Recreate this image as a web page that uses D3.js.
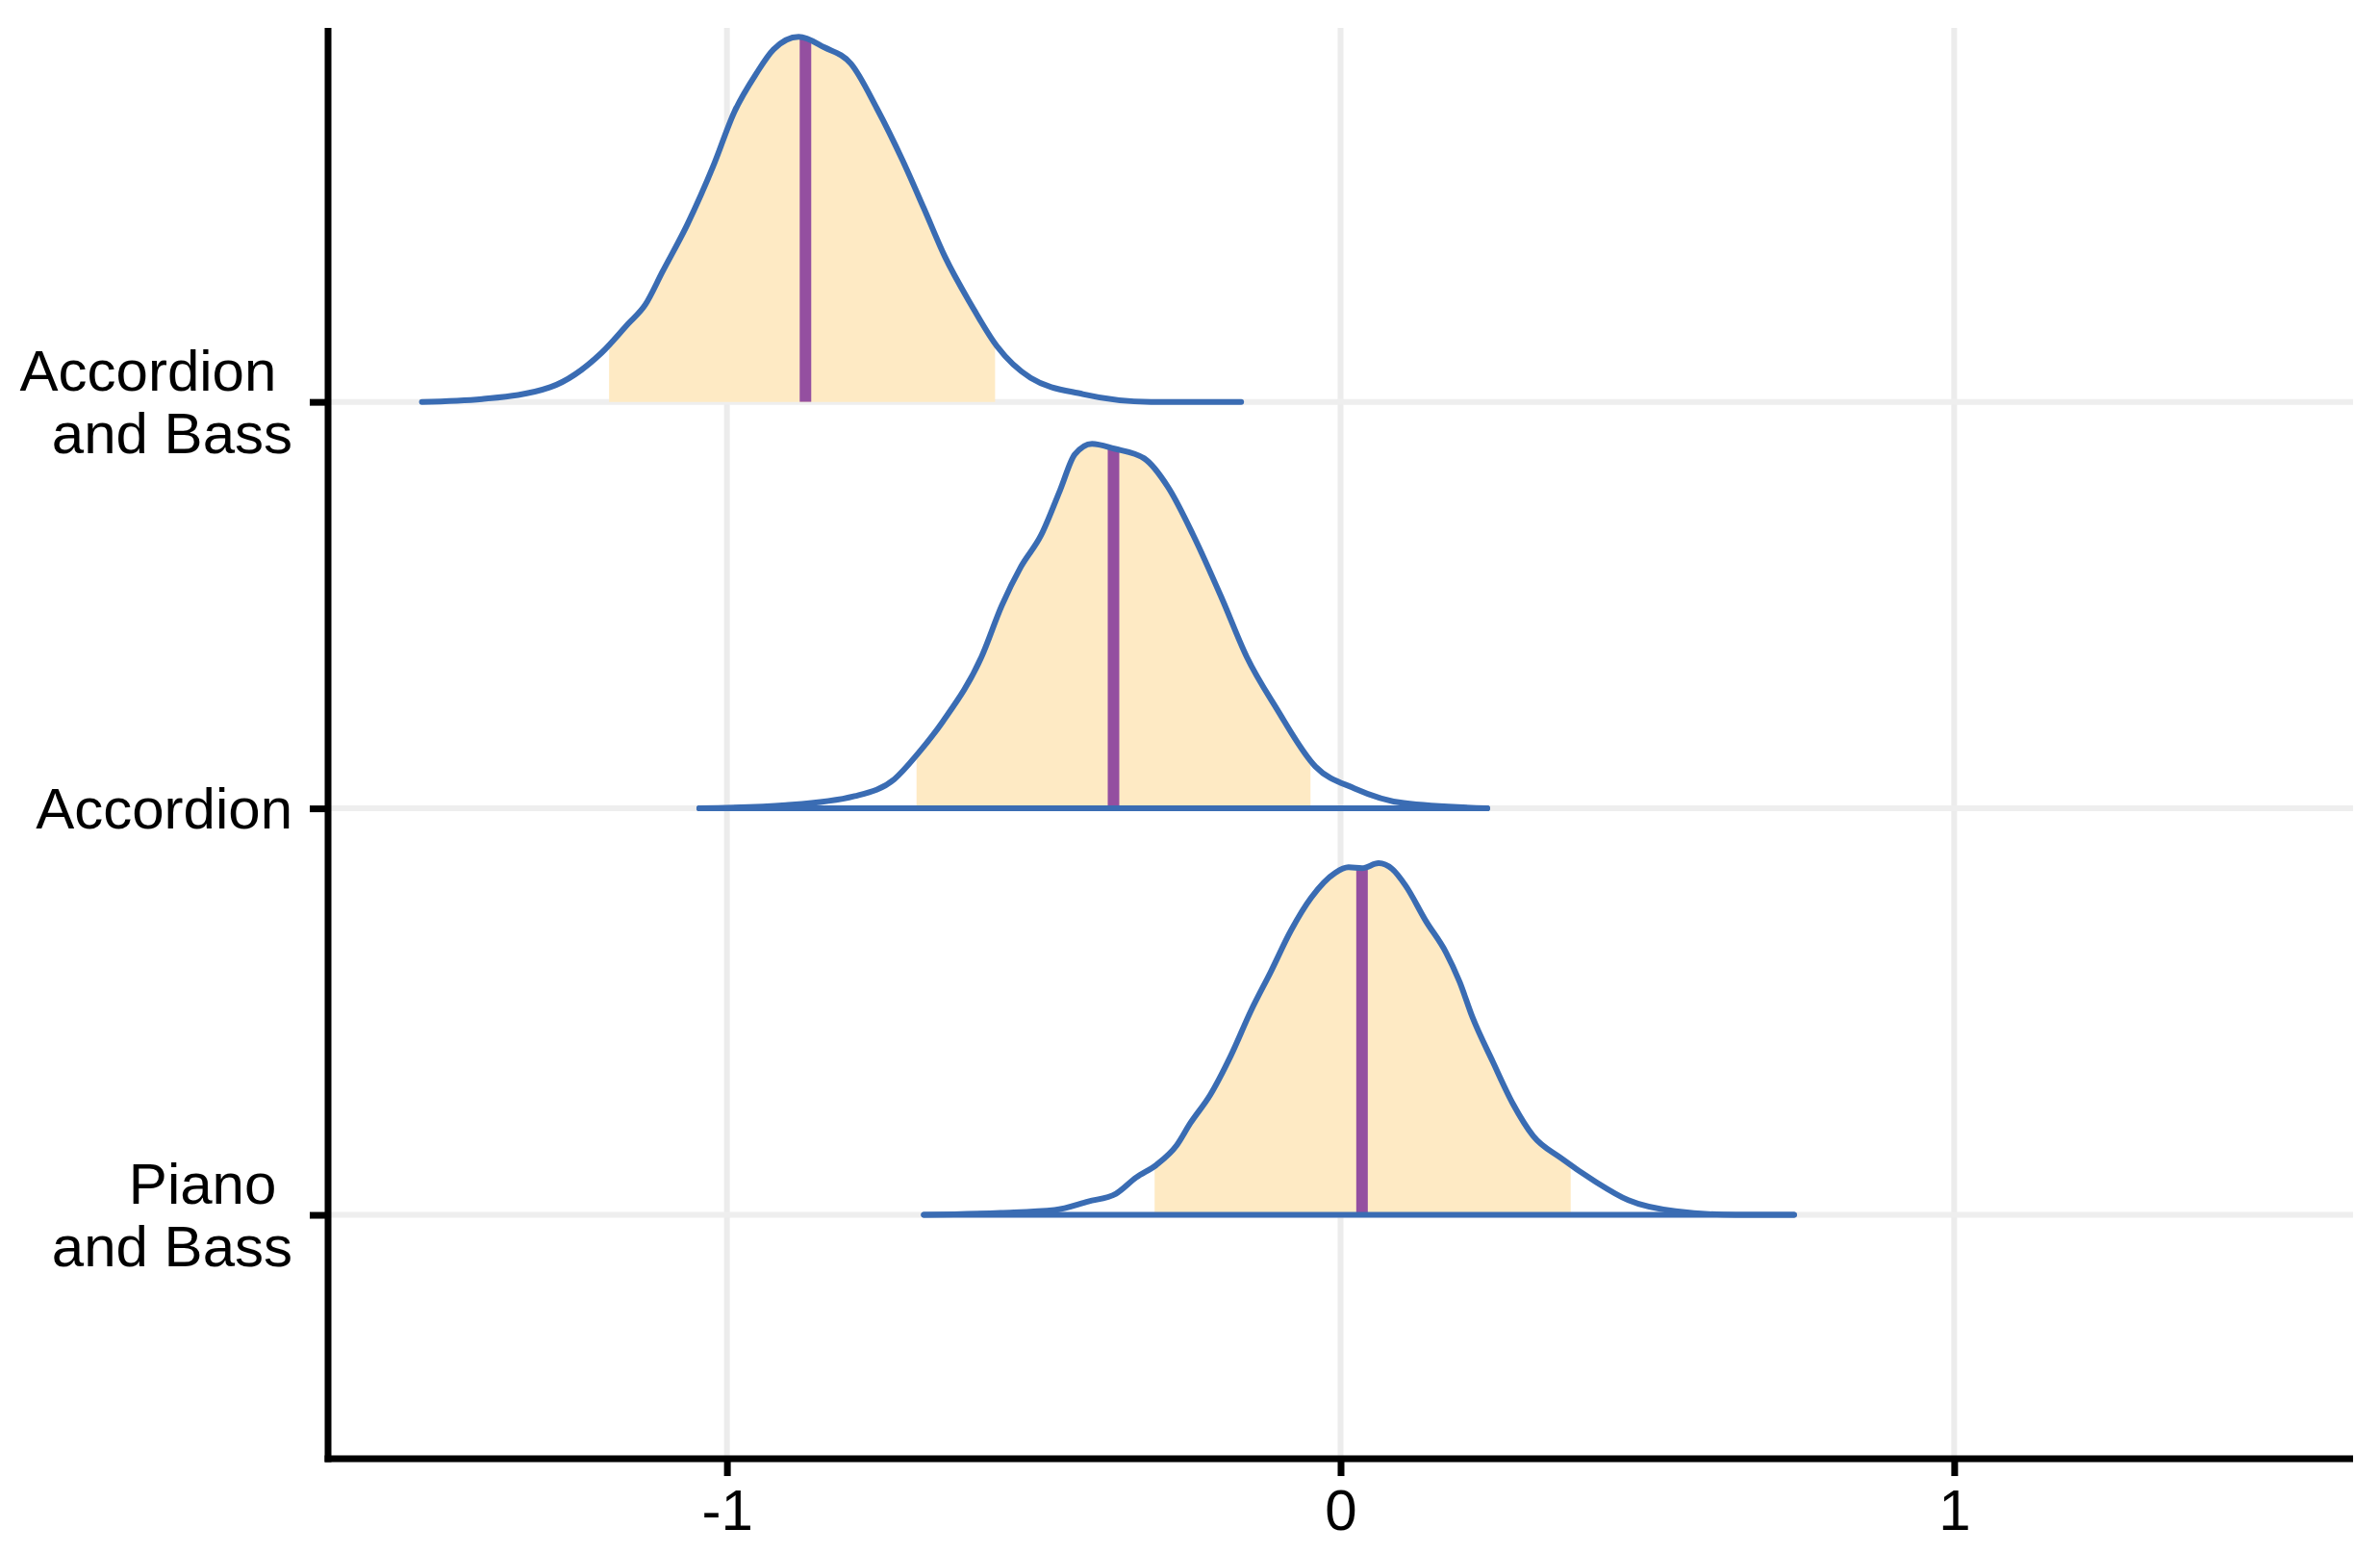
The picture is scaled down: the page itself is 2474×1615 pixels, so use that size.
<!DOCTYPE html>
<html>
<head>
<meta charset="utf-8">
<script src="https://cdn.jsdelivr.net/npm/d3@7"></script>
<style>
    body { margin: 0; background: #fff; }
</style>
</head>
<body>
<div id="chart"></div>
<script>
// Ridge data (x value, height in row units)
var xTicks = [-1, 0, 1];
var rowNames = [["Piano ", "and Bass"], ["Accordion"], ["Accordion ", "and Bass"]];

var pianoBassX = [-0.679, -0.554, -0.466, -0.411, -0.366, -0.333, -0.300, -0.267, -0.245, -0.212, -0.179, -0.146, -0.114, -0.081, -0.048, -0.009, 0.013, 0.035, 0.062, 0.084, 0.106, 0.139, 0.172, 0.194, 0.215, 0.248, 0.281, 0.314, 0.359, 0.414, 0.469, 0.546, 0.645, 0.739];
var pianoBassH = [0, 0.005, 0.012, 0.033, 0.052, 0.092, 0.123, 0.171, 0.225, 0.296, 0.391, 0.502, 0.597, 0.699, 0.780, 0.841, 0.855, 0.853, 0.865, 0.851, 0.810, 0.723, 0.645, 0.573, 0.486, 0.377, 0.273, 0.194, 0.140, 0.083, 0.036, 0.009, 0, 0];

var accordionX = [-1.045, -0.904, -0.792, -0.727, -0.688, -0.648, -0.585, -0.552, -0.521, -0.488, -0.457, -0.433, -0.405, -0.369, -0.320, -0.281, -0.240, -0.193, -0.153, -0.104, -0.041, 0.023, 0.103, 0.239];
var accordionH = [0, 0.008, 0.030, 0.072, 0.136, 0.214, 0.373, 0.499, 0.594, 0.672, 0.783, 0.871, 0.897, 0.885, 0.861, 0.790, 0.672, 0.515, 0.373, 0.245, 0.103, 0.049, 0.013, 0];

var accBassX = [-1.497, -1.399, -1.288, -1.204, -1.161, -1.133, -1.105, -1.064, -1.022, -0.988, -0.952, -0.924, -0.883, -0.841, -0.798, -0.756, -0.714, -0.679, -0.645, -0.602, -0.560, -0.505, -0.420, -0.309, -0.162];
var accBassH = [0, 0.007, 0.036, 0.121, 0.192, 0.239, 0.320, 0.438, 0.581, 0.713, 0.808, 0.867, 0.898, 0.872, 0.832, 0.723, 0.595, 0.476, 0.358, 0.239, 0.137, 0.059, 0.019, 0, 0];

// 95% interval and median for each row
var intervalLow = [-0.303, -0.691, -1.192];
var intervalHigh = [0.375, -0.049, -0.563];
var medians = [0.035, -0.370, -0.872];

var ridgeX = [pianoBassX, accordionX, accBassX];
var ridgeH = [pianoBassH, accordionH, accBassH];
var showBase = [true, true, false];

var fontFamily = '"Liberation Sans", Arial, Helvetica, sans-serif';

// Set up the svg
var svgWidth = 2474;
var svgHeight = 1615;

var svg = d3.select("#chart")
    .append("svg")
    .attr("width", svgWidth)
    .attr("height", svgHeight);

var plotLeft = 341, plotRight = 2446, plotTop = 29, plotBottom = 1516;

var xScale = d3.scaleLinear()
    .domain([-1.65, 1.65])
    .range([plotLeft, plotRight]);

// rows sit at 1, 2, 3
var yScale = d3.scaleLinear()
    .domain([0.4, 3.92])
    .range([plotBottom, plotTop]);

// Gridlines
var grid = svg.append("g");
grid.selectAll(".vgrid")
    .data(xTicks)
    .enter()
    .append("line")
    .attr("x1", d => xScale(d))
    .attr("x2", d => xScale(d))
    .attr("y1", plotTop)
    .attr("y2", plotBottom)
    .attr("stroke", "#ececec")
    .attr("stroke-width", 6);

grid.selectAll(".hgrid")
    .data([1, 2, 3])
    .enter()
    .append("line")
    .attr("x1", plotLeft)
    .attr("x2", plotRight)
    .attr("y1", d => yScale(d))
    .attr("y2", d => yScale(d))
    .attr("stroke", "#eeeeee")
    .attr("stroke-width", 6);

var defs = svg.append("defs");

// Draw each ridge
ridgeX.forEach(function(xs, i) {
    var row = i + 1;
    var pts = xs.map((x, j) => [x, ridgeH[i][j]]);

    var area = d3.area()
        .x(d => xScale(d[0]))
        .y0(yScale(row))
        .y1(d => yScale(row + d[1]))
        .curve(d3.curveMonotoneX);

    var line = d3.line()
        .x(d => xScale(d[0]))
        .y(d => yScale(row + d[1]))
        .curve(d3.curveMonotoneX);

    // clip for the interval shading
    defs.append("clipPath")
        .attr("id", "band" + i)
        .append("rect")
        .attr("x", xScale(intervalLow[i]))
        .attr("width", xScale(intervalHigh[i]) - xScale(intervalLow[i]))
        .attr("y", plotTop)
        .attr("height", plotBottom - plotTop);

    // clip to the density shape for the median line
    defs.append("clipPath")
        .attr("id", "shape" + i)
        .append("path")
        .attr("d", area(pts));

    var g = svg.append("g");

    g.append("path")
        .attr("d", area(pts))
        .attr("fill", "#feeac4")
        .attr("clip-path", "url(#band" + i + ")");

    g.append("line")
        .attr("x1", xScale(medians[i]))
        .attr("x2", xScale(medians[i]))
        .attr("y1", yScale(row))
        .attr("y2", plotTop)
        .attr("stroke", "#944fa0")
        .attr("stroke-width", 12)
        .attr("clip-path", "url(#shape" + i + ")");

    g.append("path")
        .attr("d", line(pts))
        .attr("fill", "none")
        .attr("stroke", "#3a6cb3")
        .attr("stroke-width", 6)
        .attr("stroke-linecap", "round")
        .attr("stroke-linejoin", "round");

    if (showBase[i]) {
        g.append("line")
            .attr("x1", xScale(xs[0]))
            .attr("x2", xScale(xs[xs.length - 1]))
            .attr("y1", yScale(row))
            .attr("y2", yScale(row))
            .attr("stroke", "#3a6cb3")
            .attr("stroke-width", 6)
            .attr("stroke-linecap", "round");
    }
});

// X axis
var xAxis = svg.append("g")
    .attr("transform", `translate(0, ${plotBottom})`)
    .call(d3.axisBottom(xScale)
        .tickValues(xTicks)
        .tickSize(18)
        .tickPadding(13)
        .tickFormat(d => String(d)));

// Y axis
var yAxis = svg.append("g")
    .attr("transform", `translate(${plotLeft}, 0)`)
    .call(d3.axisLeft(yScale)
        .tickValues([1, 2, 3])
        .tickSize(19)
        .tickFormat(""));

[xAxis, yAxis].forEach(function(ax) {
    ax.attr("font-family", null).attr("font-size", null);
    ax.select(".domain")
        .attr("stroke", "#000")
        .attr("stroke-width", 7);
    ax.selectAll(".tick line")
        .attr("stroke", "#000")
        .attr("stroke-width", 7);
});
yAxis.select(".domain").attr("d", `M0,${plotTop}V${plotBottom + 3.5}`);
xAxis.select(".domain").attr("d", `M${-3.5 + plotLeft},0H${plotRight}`);

xAxis.selectAll("text")
    .attr("fill", "#000")
    .style("font-family", fontFamily)
    .style("font-size", "60px");

// Row labels
var labels = svg.append("g");
rowNames.forEach(function(lines, i) {
    var yc = yScale(i + 1);
    var start = lines.length == 1 ? 21 : -12;
    var t = labels.append("text")
        .attr("text-anchor", "end")
        .attr("xml:space", "preserve")
        .style("white-space", "pre")
        .style("font-family", fontFamily)
        .style("font-size", "60px")
        .attr("fill", "#000");
    lines.forEach(function(s, k) {
        t.append("tspan")
            .attr("x", 304)
            .attr("y", yc + start + k * 65)
            .text(s);
    });
});
</script>
</body>
</html>
